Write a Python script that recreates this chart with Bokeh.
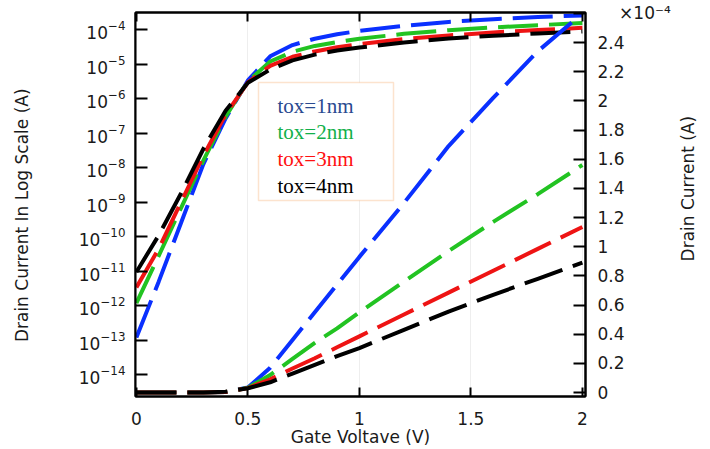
import math
from bokeh.plotting import figure
from bokeh.models import (Range1d, LinearScale, LinearAxis, FixedTicker,
                          CustomJSTickFormatter, Label, BoxAnnotation, LogTickFormatter)
from bokeh.embed import file_html
from bokeh.resources import INLINE

# ---- data ----
gate_v = [0.0, 0.1, 0.2, 0.3, 0.4, 0.5, 0.6, 0.7, 0.8, 0.9, 1.0, 1.2, 1.4, 1.6, 1.8, 2.0]
id_tox1 = [1.2e-13, 5.0e-12, 2.5e-10, 1.26e-8, 2.7e-7, 3.4e-6, 1.7e-5, 3.6e-5, 5.5e-5, 7.4e-5,
           9.3e-5, 1.30e-4, 1.69e-4, 2.02e-4, 2.34e-4, 2.60e-4]
id_tox2 = [1.2e-12, 2.8e-11, 6.8e-10, 1.6e-8, 3.0e-7, 3.2e-6, 1.2e-5, 2.3e-5, 3.4e-5, 4.4e-5,
           5.5e-5, 7.6e-5, 9.7e-5, 1.17e-4, 1.36e-4, 1.56e-4]
id_tox3 = [3.4e-12, 4.5e-11, 1.0e-9, 2.2e-8, 3.5e-7, 3.0e-6, 9.0e-6, 1.65e-5, 2.35e-5, 3.1e-5,
           3.85e-5, 5.35e-5, 6.85e-5, 8.35e-5, 9.85e-5, 1.135e-4]
id_tox4 = [9.5e-12, 1.1e-10, 1.8e-9, 3.5e-8, 4.5e-7, 2.9e-6, 7.0e-6, 1.3e-5, 1.9e-5, 2.5e-5,
           3.05e-5, 4.3e-5, 5.55e-5, 6.7e-5, 7.8e-5, 8.9e-5]

series_names = ["tox=1nm", "tox=2nm", "tox=3nm", "tox=4nm"]
x_ticks = [0, 0.5, 1, 1.5, 2]
log_ticks = [1e-14, 1e-13, 1e-12, 1e-11, 1e-10, 1e-9, 1e-8, 1e-7, 1e-6, 1e-5, 1e-4]
lin_ticks = [0.0, 0.2e-4, 0.4e-4, 0.6e-4, 0.8e-4, 1.0e-4, 1.2e-4, 1.4e-4, 1.6e-4,
             1.8e-4, 2.0e-4, 2.2e-4, 2.4e-4, 2.6e-4]
lin_multiplier = "×10⁻⁴"

# ---- styles ----
line_colors = ["#0a30ff", "#22c322", "#ee1414", "#000000"]
text_colors = ["#2a4a90", "#12b04a", "#ff1010", "#000000"]
FONT = "DejaVu Sans"
TXT = "#1a1a1a"
NB = "\u00a0"

p = figure(width=710, height=449, output_backend="svg", toolbar_location=None,
           x_range=Range1d(-0.004, 2.014), y_range=Range1d(10 ** -14.63, 10 ** -3.5),
           y_axis_type="log",
           min_border_left=135, min_border_right=125, min_border_top=12, min_border_bottom=53)
p.extra_y_ranges = {"lin": Range1d(-0.0274e-4, 2.606e-4)}
p.extra_y_scales = {"lin": LinearScale()}

p.outline_line_color = "black"
p.outline_line_width = 2
p.background_fill_color = "white"
p.border_fill_color = "white"
p.xgrid.ticker = FixedTicker(ticks=x_ticks)
p.xgrid.grid_line_color = "#eeeeee"
p.ygrid.grid_line_color = None


def style_axis(ax, tick_in):
    ax.major_tick_in = tick_in
    ax.major_tick_out = 0
    ax.minor_tick_line_color = None
    ax.axis_line_width = 2
    ax.major_tick_line_width = 2
    ax.axis_line_color = "black"
    ax.major_tick_line_color = "black"
    ax.major_label_text_font = FONT
    ax.major_label_text_font_size = "17px"
    ax.major_label_text_color = TXT
    ax.axis_label_text_font = FONT
    ax.axis_label_text_font_size = "17px"
    ax.axis_label_text_font_style = "normal"
    ax.axis_label_text_color = TXT


# bottom axis
xa = p.xaxis[0]
style_axis(xa, 9)
xa.ticker = FixedTicker(ticks=x_ticks)
xa.formatter = CustomJSTickFormatter(code="return String(Math.round(tick*10)/10);")
xa.axis_label = "Gate Voltave (V)"
xa.major_label_standoff = 15
xa.axis_label_standoff = -1

# left log axis
ya = p.yaxis[0]
style_axis(ya, 12)
ya.ticker = FixedTicker(ticks=log_ticks)
ya.formatter = LogTickFormatter()
ya.axis_label = "Drain Current In Log Scale (A)" + NB * 4
ya.major_label_standoff = 10
ya.axis_label_standoff = 44

# right linear axis (top tick carries the x10^-4 multiplier)
ra = LinearAxis(y_range_name="lin", ticker=FixedTicker(ticks=lin_ticks),
                formatter=CustomJSTickFormatter(
                    args=dict(mult=NB * 4 + lin_multiplier),
                    code="if (tick > 2.5e-4) { return mult; } return String(Math.round(tick*1e5)/10);"),
                axis_label=NB * 25 + "Drain Current (A)")
style_axis(ra, 12)
ra.major_label_standoff = 12
ra.axis_label_standoff = 14
ra.axis_label_orientation = math.pi / 2
ra.axis_label_align = "start"
p.add_layout(ra, "right")

# top axis: inward ticks only
ta = LinearAxis(ticker=FixedTicker(ticks=x_ticks),
                formatter=CustomJSTickFormatter(code="return '';"))
style_axis(ta, 9)
ta.major_label_text_color = None
ta.major_label_standoff = 0
p.add_layout(ta, "above")

series = [id_tox1, id_tox2, id_tox3, id_tox4]

# log-scale curves (left axis)
for ys, c in zip(series, line_colors):
    p.line(gate_v, ys, line_color=c, line_width=4, line_dash="40 11")

# linear-scale curves (right axis)
for ys, c in zip(series, line_colors):
    p.line(gate_v, ys, y_range_name="lin", line_color=c, line_width=4, line_dash="40 11")

# legend box with coloured texts (screen units relative to the frame)
p.add_layout(BoxAnnotation(left=123, right=258, top=314, bottom=196,
                           left_units="screen", right_units="screen",
                           top_units="screen", bottom_units="screen",
                           fill_color="white", fill_alpha=1.0,
                           line_color="#f4a15c", line_width=1.5))
for i, (name, c) in enumerate(zip(series_names, text_colors)):
    p.add_layout(Label(x=142, y=291 - i * 26.7, x_units="screen", y_units="screen",
                       text=name, text_font="Liberation Serif", text_font_size="21px",
                       text_color=c, text_baseline="alphabetic"))

open("out.html", "w").write(file_html(p, INLINE))
